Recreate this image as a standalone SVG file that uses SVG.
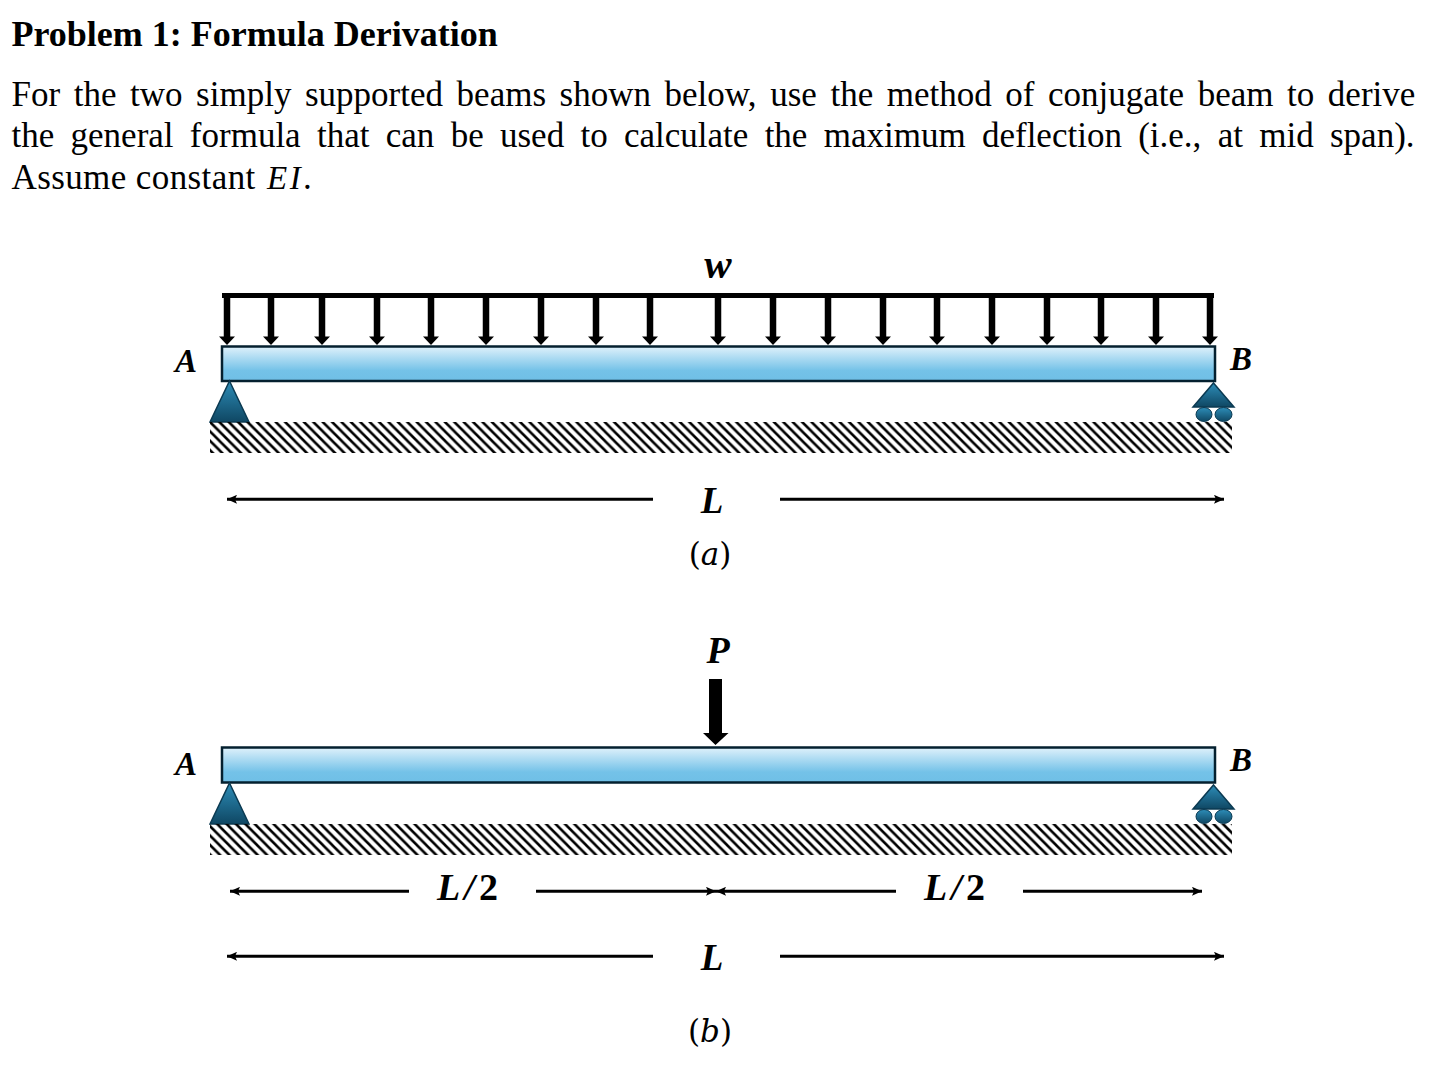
<svg xmlns="http://www.w3.org/2000/svg" width="1448" height="1068" viewBox="0 0 1448 1068">
<style>
.t{font-family:"Liberation Serif","Times New Roman",serif;fill:#000;font-size:35px}
.h{font-weight:700;font-size:36px}
.m{font-family:"Liberation Serif",serif;font-style:italic;font-weight:700;fill:#000;font-size:36px;text-anchor:middle}
.s{font-size:33px}
.c{font-family:"DejaVu Serif",serif;font-size:31px;fill:#000;text-anchor:middle}
.beam{fill:url(#bg);stroke:#04202f;stroke-width:2.5}
.sup{fill:url(#sg);stroke:#0b3a52;stroke-width:1.5}
.roll{fill:url(#sg);stroke:#0b3a52;stroke-width:1}
.ld{stroke:#000;stroke-width:6.500;fill:none}
.dim{stroke:#000;stroke-width:3;fill:none}
</style>
<defs>
<linearGradient id="bg" x1="0" y1="0" x2="0" y2="1"><stop offset="0" stop-color="#dff1fb"/><stop offset=".7" stop-color="#74c2e8"/><stop offset="1" stop-color="#6fbfe6"/></linearGradient>
<linearGradient id="sg" x1="0" y1="0" x2="0" y2="1"><stop offset="0" stop-color="#2d8db8"/><stop offset="1" stop-color="#0f4763"/></linearGradient>
<pattern id="hat" width="9.4" height="9.4" patternUnits="userSpaceOnUse" patternTransform="translate(210 422)"><path d="M-2.35 7.05L2.35 11.75M-2.35 -2.35L11.75 11.75M7.05 -2.35L11.75 2.35" stroke="#000" stroke-width="2.6"/></pattern>
<marker id="dr" markerUnits="userSpaceOnUse" viewBox="0 0 10 9" refX="10" refY="4.500" markerWidth="10" markerHeight="9" orient="auto"><path d="M0 0L10 4.500L0 9L2 4.500Z" fill="#000"/></marker>
<marker id="dl" markerUnits="userSpaceOnUse" viewBox="0 0 10 9" refX="0" refY="4.500" markerWidth="10" markerHeight="9" orient="auto"><path d="M10 0L0 4.500L10 9L8 4.500Z" fill="#000"/></marker>
<path id="lda" d="M-8 336.500H8L0 345Z" fill="#000"/>
</defs>
<rect width="1448" height="1068" fill="#fff"/>
<g id="text">
<text class="t h" x="11.500" y="46">Problem 1: Formula Derivation</text>
<text class="t" x="11.500" y="106" word-spacing="4.830">For the two simply supported beams shown below, use the method of conjugate beam to derive</text>
<text class="t" x="11.500" y="147" word-spacing="7.560">the general formula that can be used to calculate the maximum deflection (i.e., at mid span).</text>
<text class="t" x="11.500" y="189" letter-spacing="0.400">Assume constant <tspan x="267" font-style="italic" letter-spacing="2.500" font-size="33">EI</tspan><tspan x="303">.</tspan></text>
</g>
<g id="connectors">
<path class="dim" marker-start="url(#dl)" d="M227 499.300H653"/>
<path class="dim" marker-end="url(#dr)" d="M780 499.300H1224"/>
<path class="dim" marker-start="url(#dl)" d="M230 891.300H409"/>
<path class="dim" marker-end="url(#dr)" d="M536 891.300H716"/>
<path class="dim" marker-start="url(#dl)" d="M716 891.300H896"/>
<path class="dim" marker-end="url(#dr)" d="M1023 891.300H1202"/>
<path class="dim" marker-start="url(#dl)" d="M227 956.300H653"/>
<path class="dim" marker-end="url(#dr)" d="M780 956.300H1224"/>
</g>
<g id="beam-a">
<rect class="beam" x="222" y="346.500" width="993" height="34.500"/>
<text class="m s" x="186" y="372">A</text>
<text class="m s" x="1241" y="370">B</text>
</g>
<g id="load-w">
<text class="m" x="718" y="278" style="font-size:41px">w</text>
<path d="M222 293H1214V298H222Z" fill="#000"/>
<path class="ld" d="M227 295V339M271 295V339M322 295V339M377 295V339M431 295V339M486 295V339M541 295V339M596 295V339M650 295V339M718 295V339M773 295V339M828 295V339M883 295V339M937 295V339M992 295V339M1047 295V339M1101 295V339M1156 295V339M1210 295V339"/>
<g>
<use href="#lda" x="227"/><use href="#lda" x="271"/><use href="#lda" x="322"/><use href="#lda" x="377"/><use href="#lda" x="431"/><use href="#lda" x="486"/><use href="#lda" x="541"/><use href="#lda" x="596"/><use href="#lda" x="650"/><use href="#lda" x="718"/><use href="#lda" x="773"/><use href="#lda" x="828"/><use href="#lda" x="883"/><use href="#lda" x="937"/><use href="#lda" x="992"/><use href="#lda" x="1047"/><use href="#lda" x="1101"/><use href="#lda" x="1156"/><use href="#lda" x="1210"/>
</g>
</g>
<g id="support-a-pin"><path class="sup" d="M229.500 381L249 422H210Z"/></g>
<g id="support-a-roller">
<path class="sup" d="M1213.500 383L1234 407H1193Z"/>
<ellipse class="roll" cx="1204" cy="414.500" rx="8" ry="7"/><ellipse class="roll" cx="1223.500" cy="414.500" rx="8.500" ry="7"/>
</g>
<g id="ground-a"><rect x="210" y="422" width="1022" height="31" fill="url(#hat)"/></g>
<g id="label-a">
<text class="m" x="712" y="513" style="font-size:37px">L</text>
<text class="c" x="710" y="565">(<tspan font-style="italic">a</tspan>)</text>
</g>
<g id="beam-b">
<rect class="beam" x="222" y="747.500" width="993" height="35"/>
<text class="m s" x="186" y="775">A</text>
<text class="m s" x="1241" y="771">B</text>
</g>
<g id="load-p">
<text class="m" x="718" y="663" style="font-size:38px">P</text>
<path d="M709 679H722V733H728.500L715.500 745L703 733H709Z" fill="#000"/>
</g>
<g id="support-b-pin"><path class="sup" d="M229.500 783L249 824H210Z"/></g>
<g id="support-b-roller">
<path class="sup" d="M1213.500 785L1234 809H1193Z"/>
<ellipse class="roll" cx="1204" cy="816.500" rx="8" ry="7"/><ellipse class="roll" cx="1223.500" cy="816.500" rx="8.500" ry="7"/>
</g>
<g id="ground-b"><rect x="210" y="824" width="1022" height="31" fill="url(#hat)"/></g>
<g id="label-b">
<text class="m" x="469.500" y="900" style="font-size:38px;letter-spacing:4px">L/<tspan font-style="normal">2</tspan></text>
<text class="m" x="956.500" y="900" style="font-size:38px;letter-spacing:4px">L/<tspan font-style="normal">2</tspan></text>
<text class="m" x="712" y="970" style="font-size:37px">L</text>
<text class="c" x="710" y="1042">(<tspan font-style="italic">b</tspan>)</text>
</g>
</svg>
